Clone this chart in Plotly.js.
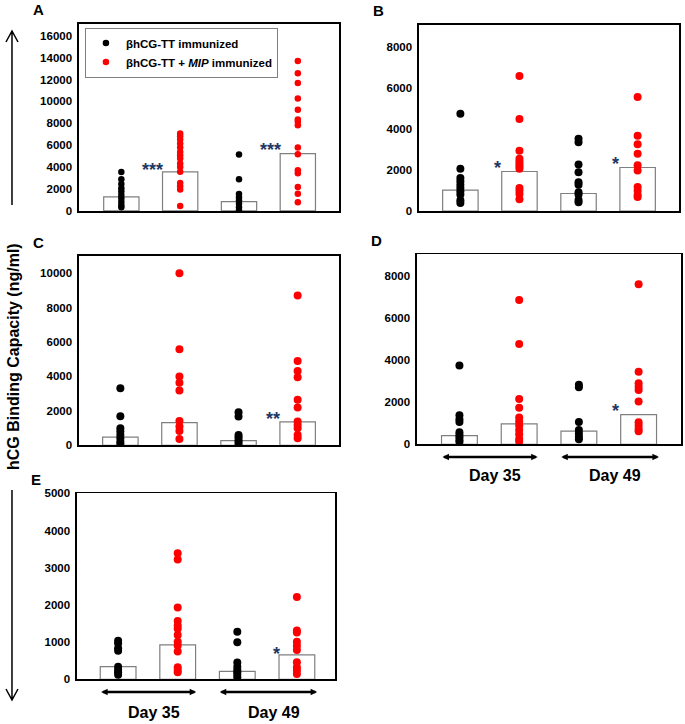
<!DOCTYPE html>
<html>
<head>
<meta charset="utf-8">
<script src="https://cdn.plot.ly/plotly-3.0.1.min.js"></script>
<style>html,body{margin:0;padding:0;background:#fff;}#chart{width:685px;height:724px;}</style>
</head>
<body>
<div id="chart"></div>
<script>
// Group positions (0: Day35 βhCG-TT, 1: Day35 +MIP, 2: Day49 βhCG-TT, 3: Day49 +MIP)
const groupLabels = ['Day 35 βhCG-TT', 'Day 35 βhCG-TT + MIP', 'Day 49 βhCG-TT', 'Day 49 βhCG-TT + MIP'];
const dayLabels = ['Day 35', 'Day 49'];
const seriesNames = ['βhCG-TT immunized', 'βhCG-TT + <i>MIP</i> immunized'];

// Panel A
const A_tt35  = [3560, 2900, 2470, 2070, 1770, 1460, 1160, 850, 550, 340];
const A_mip35 = [7070, 6830, 6520, 6160, 5790, 5390, 5090, 4790, 4330, 4020, 3570, 2560, 2260, 1950, 460];
const A_tt49  = [5150, 2900, 1550, 1250, 950, 650, 350, 60];
const A_mip49 = [13690, 12560, 11670, 10270, 9235, 8350, 8140, 7830, 5790, 5180, 3720, 3440, 2190, 1580, 790];
const A_bars  = [1280, 3560, 850, 5240];

// Panel B
const B_tt35  = [4730, 2060, 1600, 1450, 1280, 1120, 960, 800, 520, 390];
const B_mip35 = [6570, 4470, 2930, 2540, 2410, 2290, 2180, 2050, 1120, 980, 830, 570];
const B_tt49  = [3510, 3350, 2260, 1890, 1400, 1270, 910, 800, 540, 420];
const B_mip49 = [5540, 3660, 3250, 2790, 2220, 1970, 1170, 980, 780, 680];
const B_bars  = [1010, 1920, 850, 2115];

// Panel C
const C_tt35  = [3310, 1690, 990, 800, 600, 410, 210, 80];
const C_mip35 = [10000, 5580, 3990, 3640, 3180, 1410, 1090, 830, 370];
const C_tt49  = [1920, 1670, 600, 470, 310, 175, 40];
const C_mip49 = [8700, 4900, 4320, 3950, 2640, 2190, 1380, 1180, 990, 600, 410];
const C_bars  = [470, 1320, 270, 1360];

// Panel D
const D_tt35  = [3740, 1380, 1190, 1060, 570, 440, 330, 210, 110];
const D_mip35 = [6860, 4770, 2150, 1740, 1270, 1080, 890, 680, 475, 250, 130];
const D_tt49  = [2830, 2710, 1060, 680, 520, 360, 240];
const D_mip49 = [7600, 3450, 2900, 2740, 2580, 2030, 1050, 890, 730, 620];
const D_bars  = [410, 970, 630, 1410];

// Panel E
const E_tt35  = [1040, 970, 835, 765, 340, 250, 190, 120];
const E_mip35 = [3390, 3220, 1930, 1570, 1450, 1360, 1190, 1010, 910, 745, 325, 250, 190];
const E_tt49  = [1280, 1000, 450, 340, 250, 190, 120, 55];
const E_mip49 = [2210, 1310, 1260, 1010, 900, 790, 460, 325, 235, 145];
const E_bars  = [340, 925, 215, 655];

// Significance marks
const starPanels = ['A','A','B','B','C','D','E'];
const starX      = [0.53, 2.54, 0.62, 2.62, 2.59, 2.62, 2.65];
const starY      = [4100, 5940, 2280, 2470, 1760, 1770, 790];
const starText   = ['***','***','*','*','**','*','*'];

const panels = {
  A: {ax: '',  data: [A_tt35, A_mip35, A_tt49, A_mip49], bars: A_bars, range: [0, 17070], dtick: 2000, size: 6.5,
      xd: [0.1153, 0.4949], yd: [0.7086, 0.9669], xr: [-0.72, 3.70]},
  B: {ax: '2', data: [B_tt35, B_mip35, B_tt49, B_mip49], bars: B_bars, range: [0, 9050], dtick: 2000, size: 8,
      xd: [0.6117, 0.9912], yd: [0.7086, 0.9655], xr: [-0.70, 3.70]},
  C: {ax: '3', data: [C_tt35, C_mip35, C_tt49, C_mip49], bars: C_bars, range: [0, 11000], dtick: 2000, size: 8,
      xd: [0.1153, 0.4949], yd: [0.3850, 0.6464], xr: [-0.70, 3.70]},
  D: {ax: '4', data: [D_tt35, D_mip35, D_tt49, D_mip49], bars: D_bars, range: [0, 9030], dtick: 2000, size: 8,
      xd: [0.6088, 0.9942], yd: [0.3863, 0.6488], xr: [-0.71, 3.71]},
  E: {ax: '5', data: [E_tt35, E_mip35, E_tt49, E_mip49], bars: E_bars, range: [0, 5000], dtick: 1000, size: 8,
      xd: [0.1124, 0.4891], yd: [0.0617, 0.3186], xr: [-0.69, 3.64]}
};

const colors = ['#000000', '#FF0000', '#000000', '#FF0000'];
const traces = [];
const layout = {
  width: 685, height: 724,
  margin: {l: 0, r: 0, t: 0, b: 0},
  paper_bgcolor: '#fff', plot_bgcolor: '#fff',
  font: {family: 'Liberation Sans, Arial, sans-serif', color: '#000'},
  showlegend: true,
  legend: {x: 0.124, y: 0.962, xanchor: 'left', yanchor: 'top', bgcolor: '#fff',
           bordercolor: '#7f7f7f', borderwidth: 1,
           font: {size: 11.5, weight: 'bold', family: 'Liberation Sans, Arial, sans-serif'},
           tracegroupgap: 0, itemwidth: 30},
  annotations: [],
  shapes: []
};

Object.keys(panels).forEach(function (key) {
  const p = panels[key];
  const xa = 'x' + p.ax, ya = 'y' + p.ax;
  traces.push({
    type: 'bar', x: [0, 1, 2, 3], y: p.bars, xaxis: xa, yaxis: ya, width: 0.6,
    marker: {color: '#ffffff', line: {color: '#7f7f7f', width: 1.2}},
    showlegend: false, hoverinfo: 'skip'
  });
  p.data.forEach(function (vals, gi) {
    traces.push({
      type: 'scatter', mode: 'markers', xaxis: xa, yaxis: ya,
      x: vals.map(function () { return gi; }), y: vals,
      marker: {color: colors[gi], size: p.size},
      name: seriesNames[gi % 2], text: groupLabels[gi],
      showlegend: key === 'A' && gi < 2,
      legendrank: gi
    });
  });
  const axBase = {linecolor: '#000', linewidth: 1.6, mirror: true, showline: true, showgrid: false, zeroline: false};
  layout['xaxis' + p.ax] = Object.assign({}, axBase, {domain: p.xd, anchor: ya, range: p.xr,
    showticklabels: false, ticks: '', fixedrange: true});
  layout['yaxis' + p.ax] = Object.assign({}, axBase, {domain: p.yd, anchor: xa, range: p.range,
    dtick: p.dtick, tick0: 0, ticks: 'outside', ticklen: 3, tickcolor: '#fff', showticklabels: true, tickformat: 'd',
    tickfont: {size: 11.5, weight: 'bold', family: 'Liberation Sans, Arial, sans-serif', color: '#000'}});
  layout.annotations.push({xref: 'paper', yref: 'paper', x: (p.xd[0] * 685 - 48) / 685, y: p.yd[1] + 14 / 724,
    text: key, showarrow: false, xanchor: 'left', yanchor: 'middle',
    font: {size: 15, weight: 'bold'}});
});

// Stars
starPanels.forEach(function (pk, i) {
  const p = panels[pk];
  layout.annotations.push({xref: 'x' + p.ax, yref: 'y' + p.ax, x: starX[i], y: starY[i],
    text: starText[i], showarrow: false, xanchor: 'center', yanchor: 'middle', yshift: -4,
    font: {size: 18, weight: 'bold', color: '#1F3864'}});
});

// Day brackets under D and E
const dayStart = [-0.31, 1.68];
const dayEnd   = [1.31, 3.34];
[['D', 457, 475], ['E', 692, 712]].forEach(function (cfg) {
  const p = panels[cfg[0]];
  dayLabels.forEach(function (lab, i) {
    layout.annotations.push({xref: 'x' + p.ax, yref: 'paper', axref: 'x' + p.ax, ayref: 'pixel',
      x: dayEnd[i], y: 1 - cfg[1] / 724, ax: dayStart[i], ay: 0, text: '',
      showarrow: true, arrowside: 'end+start', arrowhead: 2, arrowsize: 0.5, arrowwidth: 2.6, arrowcolor: '#000'});
    layout.annotations.push({xref: 'x' + p.ax, yref: 'paper', x: (dayStart[i] + dayEnd[i]) / 2 + 0.1,
      y: 1 - cfg[2] / 724, text: lab, showarrow: false, xanchor: 'center', yanchor: 'middle',
      font: {size: 16, weight: 'bold'}});
  });
});

// Shared y title
layout.annotations.push({xref: 'paper', yref: 'paper', x: 13 / 685, y: 1 - 357 / 724, text: 'hCG Binding Capacity (ng/ml)',
  textangle: -90, showarrow: false, xanchor: 'center', yanchor: 'middle', font: {size: 16, weight: 'bold'}});

// Vertical arrows beside the title
layout.shapes.push({type: 'path', xref: 'paper', yref: 'paper', line: {color: '#000', width: 1.5},
  path: 'M 0.0175 ' + (1 - 205 / 724) + ' L 0.0175 ' + (1 - 31 / 724) +
        ' M ' + (0.0175 - 6 / 685) + ' ' + (1 - 42 / 724) + ' L 0.0175 ' + (1 - 31 / 724) + ' L ' + (0.0175 + 6 / 685) + ' ' + (1 - 42 / 724)});
layout.shapes.push({type: 'path', xref: 'paper', yref: 'paper', line: {color: '#000', width: 1.5},
  path: 'M 0.0175 ' + (1 - 490 / 724) + ' L 0.0175 ' + (1 - 700 / 724) +
        ' M ' + (0.0175 - 6 / 685) + ' ' + (1 - 689 / 724) + ' L 0.0175 ' + (1 - 700 / 724) + ' L ' + (0.0175 + 6 / 685) + ' ' + (1 - 689 / 724)});

Plotly.newPlot('chart', traces, layout, {displayModeBar: false, staticPlot: true});
</script>
</body>
</html>
